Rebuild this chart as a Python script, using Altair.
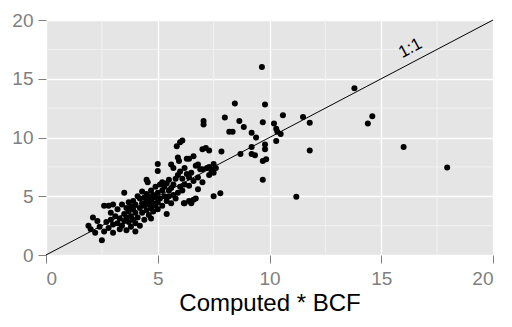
import altair as alt
import pandas as pd

# Scatter data
x_vals = [1.9, 2.0, 2.1, 2.3, 2.5, 2.2, 2.4, 2.6, 2.8, 2.7, 2.9, 2.6, 2.8, 3.0, 2.9, 3.0, 3.0, 3.1,
          3.2, 3.2, 3.3, 3.3, 3.4, 3.4, 3.5, 3.5, 3.5, 3.6, 3.6, 3.6, 3.7, 3.7, 3.7, 3.8, 3.8, 3.8,
          3.9, 3.9, 3.9, 4.0, 4.0, 4.0, 4.0, 4.1, 4.1, 4.2, 4.2, 4.2, 4.3, 4.3, 4.3, 4.4, 4.4, 4.4,
          4.5, 4.55, 4.5, 4.5, 4.5, 4.6, 4.6, 4.6, 4.7, 4.7, 4.7, 4.7, 4.8, 4.8, 4.8, 4.9, 4.9, 4.9,
          5.0, 5.0, 5.0, 5.0, 5.0, 5.1, 5.1, 5.2, 5.2, 5.2, 5.3, 5.3, 5.4, 5.4, 5.4, 5.5, 5.5, 5.5,
          5.6, 5.6, 5.6, 5.7, 5.7, 5.7, 5.85, 5.8, 5.8, 5.9, 5.95, 5.9, 5.9, 6.0, 6.0, 6.0, 6.1, 6.1,
          6.1, 6.2, 6.2, 6.2, 6.3, 6.3, 6.4, 6.4, 6.4, 6.5, 6.5, 6.6, 6.6, 6.6, 6.7, 6.8, 6.8, 6.8,
          6.9, 7.0, 7.0, 7.05, 7.05, 7.15, 7.2, 7.3, 7.4, 7.5, 7.5, 7.6, 7.85, 7.3, 7.0, 7.5, 7.8,
          7.3, 8.0, 8.2, 8.35, 8.45, 8.65, 8.85, 8.7, 9.2, 9.4, 9.2, 9.8, 9.8, 9.35, 9.7, 9.85, 9.7,
          9.66, 9.8, 9.7, 10.2, 10.3, 10.35, 10.6, 10.3, 10.5, 11.5, 11.8, 11.8, 11.2, 13.8, 14.6,
          14.4, 16.0, 17.95, 9.2, 6.17, 6.4, 6.7]
y_vals = [2.5, 2.2, 3.2, 2.9, 1.25, 1.9, 2.4, 4.2, 4.2, 2.8, 3.0, 2.0, 2.3, 4.3, 3.6, 2.6, 1.9, 3.3,
          2.7, 3.9, 2.2, 3.1, 4.3, 2.5, 5.3, 3.5, 2.9, 4.0, 3.2, 2.1, 4.5, 3.7, 2.8, 3.3, 4.1, 2.4,
          3.9, 3.0, 4.6, 2.0, 3.6, 4.3, 2.7, 5.0, 3.2, 4.0, 4.8, 2.5, 3.6, 4.4, 5.4, 3.0, 4.2, 4.9,
          6.4, 6.2, 3.8, 4.6, 5.2, 3.4, 4.3, 5.0, 4.0, 4.7, 5.5, 3.1, 4.4, 5.1, 3.7, 4.2, 5.8, 4.9,
          7.75, 7.15, 5.3, 4.5, 3.9, 6.0, 4.8, 5.5, 4.2, 6.2, 5.0, 5.8, 3.5, 6.1, 4.6, 5.5, 6.4, 5.0,
          7.7, 4.4, 5.7, 7.4, 6.0, 5.1, 9.25, 6.5, 4.8, 8.3, 8.0, 6.8, 5.3, 7.1, 5.8, 9.6, 9.75, 6.5,
          5.5, 4.4, 7.4, 6.0, 8.2, 6.9, 8.2, 5.9, 6.6, 4.4, 7.0, 8.4, 6.3, 4.7, 7.6, 5.6, 7.7, 6.6,
          7.3, 9.0, 7.3, 11.4, 11.1, 9.1, 7.4, 7.5, 7.2, 7.75, 7.0, 7.4, 8.8, 6.8, 6.2, 5.0, 5.25,
          8.9, 11.7, 10.5, 10.5, 12.9, 11.4, 10.9, 8.6, 10.4, 10.0, 9.2, 9.4, 9.0, 8.5, 8.0, 8.15, 6.4,
          16.0, 12.8, 11.3, 11.2, 10.75, 10.5, 11.9, 9.7, 10.3, 11.75, 11.25, 8.9, 4.95, 14.2, 11.8,
          11.2, 9.2, 7.45, 8.6, 4.4, 4.6, 4.8]

axis_ticks = [0, 5, 10, 15, 20]
minor_ticks = [2.5, 7.5, 12.5, 17.5]
ref_x = [0, 20]
ref_y = [0, 20]
label_text = ["1:1"]
label_x = [16.3]
label_y = [17.6]
x_title = "Computed * BCF"

pts = pd.DataFrame({"x": x_vals, "y": y_vals})
minor_df = pd.DataFrame({"v": minor_ticks})
ref_df = pd.DataFrame({"x": ref_x, "y": ref_y})
lab_df = pd.DataFrame({"x": label_x, "y": label_y, "t": label_text})

xs = alt.Scale(domain=[0, 20], nice=False, zero=False)
ys = alt.Scale(domain=[0, 20], nice=False, zero=False)
xax = alt.Axis(values=axis_ticks, title=x_title)
yax = alt.Axis(values=axis_ticks, title=None)

minor_v = alt.Chart(minor_df).mark_rule(color="#F2F2F2", strokeWidth=1).encode(
    x=alt.X("v:Q", scale=xs, axis=xax))
minor_h = alt.Chart(minor_df).mark_rule(color="#F2F2F2", strokeWidth=1).encode(
    y=alt.Y("v:Q", scale=ys, axis=yax))

line = alt.Chart(ref_df).mark_line(color="black", strokeWidth=1).encode(
    x=alt.X("x:Q", scale=xs, axis=xax), y=alt.Y("y:Q", scale=ys, axis=yax))

points = alt.Chart(pts).mark_circle(color="black", size=36, opacity=1).encode(
    x=alt.X("x:Q", scale=xs, axis=xax), y=alt.Y("y:Q", scale=ys, axis=yax))

label = alt.Chart(lab_df).mark_text(
    angle=332, fontSize=17, font="Liberation Sans", color="black",
    align="center", baseline="middle").encode(
    x=alt.X("x:Q", scale=xs, axis=xax), y=alt.Y("y:Q", scale=ys, axis=yax), text="t:N")

chart = alt.layer(minor_v, minor_h, line, points, label).properties(
    width=447, height=235,
    autosize=alt.AutoSizeParams(type="none"),
    padding={"left": 38, "top": 12, "right": 11, "bottom": 60},
).configure_view(fill="#E5E5E5", stroke=None).configure_axis(
    domain=False, grid=True, gridColor="white", gridWidth=1.3,
    tickColor="#7F7F7F", tickSize=8, tickWidth=1,
    labelColor="#7F7F7F", labelFontSize=19, labelFont="Liberation Sans",
    titleFont="Liberation Sans", titleFontSize=24, titleColor="black",
    titleFontWeight="normal",
).configure_axisX(labelPadding=6, titlePadding=3).configure_axisY(labelPadding=5)

chart.save("out.html", embed_options={"renderer": "svg", "actions": False})
